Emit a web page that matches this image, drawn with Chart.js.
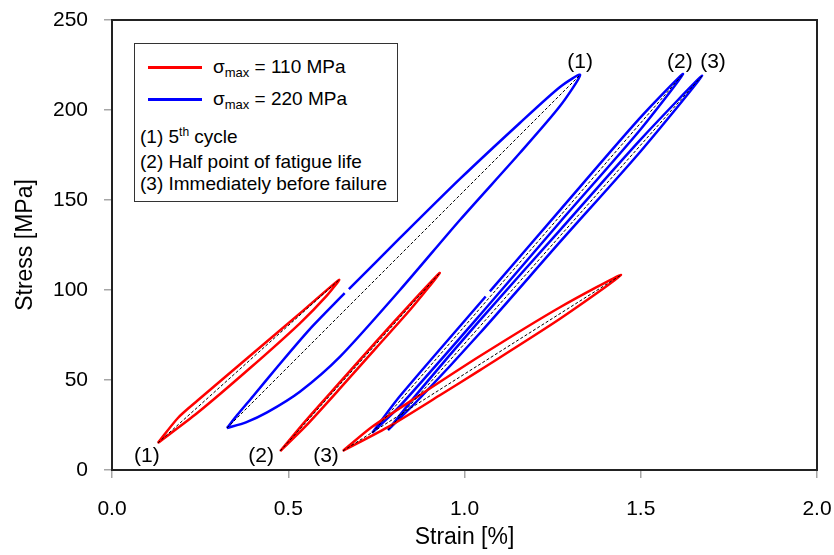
<!DOCTYPE html>
<html>
<head>
<meta charset="utf-8">
<script src="https://cdn.jsdelivr.net/npm/chart.js@4.4.1/dist/chart.umd.min.js"></script>
<style>
  body { margin: 0; background: #fff; }
  #wrap { position: relative; width: 834px; height: 555px; font-family: "Liberation Sans", Arial, sans-serif; color: #000; }
  #legend-box { position: absolute; left: 134px; top: 43px; width: 262px; height: 157px; border: 1.5px solid #333; background: #fff; }
  .row { position: absolute; white-space: nowrap; font-size: 19px; line-height: 22px; }
  .swatch { position: absolute; left: 13px; width: 54px; height: 2.5px; }
  sub { font-size: 13px; vertical-align: -4px; line-height: 0; }
  sup { font-size: 12px; vertical-align: 7px; line-height: 0; }
</style>
</head>
<body>
<div id="wrap">
  <canvas id="myChart" width="834" height="555"></canvas>
  <div id="legend-box">
    <div class="swatch" style="top:22px; background:#ff0000;"></div>
    <div class="row" style="left:78px; top:12px;">σ<sub>max</sub> = 110 MPa</div>
    <div class="swatch" style="top:54px; background:#0000ff;"></div>
    <div class="row" style="left:78px; top:44px;">σ<sub>max</sub> = 220 MPa</div>
    <div class="row" style="left:5px; top:82px;">(1) 5<sup>th</sup> cycle</div>
    <div class="row" style="left:5px; top:107px;">(2) Half point of fatigue life</div>
    <div class="row" style="left:5px; top:129px;">(3) Immediately before failure</div>
  </div>
</div>
<script>
// hysteresis loops: bottom tip -> loading branch -> top tip -> unloading branch -> bottom tip
// (null = small break in the recorded curve)
const red1Strain = [0.130, 0.241, 0.391, 0.533, 0.610, 0.644, 0.533, 0.391, 0.241, 0.187, 0.130];
const red1Stress = [15.0, 31.5, 56.5, 81.5, 97.0, 105.6, 87.0, 63.3, 38.3, 28.9, 15.0];

const red2Strain = [0.477, 0.55, 0.65, 0.75, 0.85, 0.93, 0.85, 0.75, 0.65, 0.55, 0.477];
const red2Stress = [10.5, 24.5, 46.0, 68.0, 90.0, 109.5, 93.0, 71.5, 49.5, 27.5, 10.5];

const red3Strain = [0.655, 0.789, 0.930, 1.044, 1.271, 1.444, 1.271, 1.044, 0.874, 0.738, 0.655];
const red3Stress = [10.6, 24.5, 41.5, 55.5, 84.0, 108.3, 90.4, 63.3, 41.7, 24.0, 10.6];

const blue1Strain = [0.326, 0.380, 0.440, 0.533, 0.647, 0.817, 0.987, 1.157, 1.271, 1.328,
    1.271, 1.157, 0.987, 0.817, 0.672, 0.666, 0.660, 0.560, 0.470, 0.400, 0.355, 0.326];
const blue1Stress = [23.3, 26.5, 32.0, 43.5, 63.0, 100.0, 138.9, 176.1, 202.2, 219.5,
    212.8, 192.8, 161.7, 128.9, 100.5, null, 98.2, 78.0, 57.5, 41.0, 30.5, 23.3];

const blue2Strain = [0.738, 0.817, 1.044, 1.271, 1.498, 1.620, 1.498, 1.271, 1.072, 1.066, 1.060, 0.817, 0.738];
const blue2Stress = [20.6, 35.6, 86.1, 137.8, 188.9, 220.0, 195.6, 144.4, 99.2, null, 96.4, 41.1, 20.6];

const blue3Strain = [0.783, 0.874, 1.044, 1.271, 1.498, 1.674, 1.498, 1.271, 1.044, 0.874, 0.783];
const blue3Stress = [22.2, 40.0, 76.1, 126.7, 176.7, 219.0, 183.3, 133.3, 83.3, 44.4, 22.2];

// (1) (2) (3) labels next to the loop tips
const labelText = ['(1)', '(2)', '(3)', '(1)', '(2)', '(3)'];
const labelStrain = [0.099, 0.423, 0.607, 1.328, 1.611, 1.705];
const labelStress = [7.8, 7.8, 7.8, 226.4, 226.4, 226.4];

const RED = '#ff0000';
const BLUE = '#0000ff';

function toPoints(xs, ys){
    return xs.map((x, i) => ({x: x, y: ys[i]}));
}

// dashed line from the lowest tip to the highest tip of a loop
function tipLine(xs, ys){
    const top = ys.indexOf(Math.max(...ys.filter(v => v !== null)));
    return [{x: xs[0], y: ys[0]}, {x: xs[top], y: ys[top]}];
}

const loops = [
    {xs: red1Strain, ys: red1Stress, color: RED},
    {xs: red2Strain, ys: red2Stress, color: RED},
    {xs: red3Strain, ys: red3Stress, color: RED},
    {xs: blue1Strain, ys: blue1Stress, color: BLUE},
    {xs: blue2Strain, ys: blue2Stress, color: BLUE},
    {xs: blue3Strain, ys: blue3Stress, color: BLUE}
];

const datasets = [];
for(const loop of loops){
    datasets.push({
        data: toPoints(loop.xs, loop.ys),
        borderColor: loop.color,
        borderWidth: 2.5,
        tension: 0.25,
        pointRadius: 0,
        showLine: true,
        spanGaps: false,
        order: 1
    });
}
for(const loop of loops){
    datasets.push({
        data: tipLine(loop.xs, loop.ys),
        borderColor: '#000',
        borderWidth: 1,
        borderDash: [3, 2],
        pointRadius: 0,
        showLine: true,
        order: 0
    });
}

const frameAndLabels = {
    id: 'frameAndLabels',
    afterDraw(chart){
        const ctx = chart.ctx;
        const a = chart.chartArea;
        ctx.save();
        ctx.strokeStyle = '#222';
        ctx.lineWidth = 2;
        ctx.strokeRect(a.left, a.top, a.right - a.left, a.bottom - a.top);
        ctx.fillStyle = '#000';
        ctx.font = '21px "Liberation Sans", Arial, sans-serif';
        ctx.textAlign = 'center';
        ctx.textBaseline = 'middle';
        for(let i = 0; i < labelText.length; i++){
            const px = chart.scales.x.getPixelForValue(labelStrain[i]);
            const py = chart.scales.y.getPixelForValue(labelStress[i]);
            ctx.fillText(labelText[i], px, py);
        }
        ctx.restore();
    }
};

const tickFont = {family: '"Liberation Sans", Arial, sans-serif', size: 21};
const titleFont = {family: '"Liberation Sans", Arial, sans-serif', size: 23};

// fixed plot area: left 112, right 817, top 20, bottom 470
new Chart(document.getElementById('myChart').getContext('2d'), {
    type: 'scatter',
    data: {datasets: datasets},
    options: {
        responsive: false,
        animation: false,
        layout: {padding: {top: 20, right: 17, bottom: 0, left: 0}},
        plugins: {legend: {display: false}, tooltip: {enabled: false}},
        scales: {
            x: {
                type: 'linear',
                min: 0, max: 2,
                afterFit(scale){
                    scale.height = 85;
                    scale.paddingLeft = 0;
                    scale.paddingRight = 0;
                },
                ticks: {stepSize: 0.5, padding: 19, color: '#000', font: tickFont,
                    callback: v => v.toFixed(1)},
                grid: {drawOnChartArea: false, drawTicks: true, tickLength: 8, color: '#a6a6a6', lineWidth: 1.5},
                border: {display: true, color: '#333', width: 2},
                title: {display: true, text: 'Strain [%]', color: '#000', font: titleFont, padding: {top: 0, bottom: 4}}
            },
            y: {
                type: 'linear',
                min: 0, max: 250,
                afterFit(scale){
                    scale.width = 112;
                    scale.paddingTop = 0;
                    scale.paddingBottom = 0;
                },
                ticks: {stepSize: 50, padding: 16, color: '#000', font: tickFont},
                grid: {drawOnChartArea: false, drawTicks: true, tickLength: 8, color: '#a6a6a6', lineWidth: 1.5},
                border: {display: true, color: '#333', width: 2},
                title: {display: true, text: 'Stress [MPa]', color: '#000', font: titleFont, padding: {top: 12, bottom: 0}}
            }
        }
    },
    plugins: [frameAndLabels]
});
</script>
</body>
</html>
